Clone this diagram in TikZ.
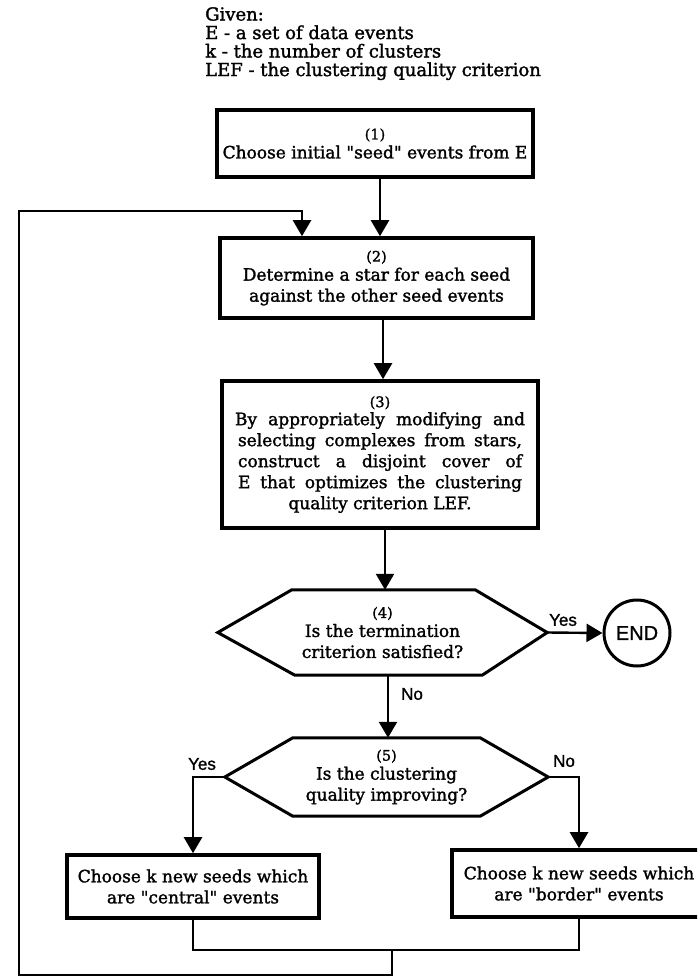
\documentclass[tikz,border=0pt]{standalone}
\usepackage{fontspec}
\setmainfont{DejaVu Serif}[Ligatures=TeXOff,FakeBold=1.6]
\newfontfamily\lblfont{Liberation Sans}[FakeBold=1.2]
\usetikzlibrary{arrows.meta}
\newcommand\bfnt{\fontsize{17}{21}\selectfont}
\newcommand\gfnt{\fontsize{18}{18.5}\selectfont}
\newcommand\numfnt{\fontsize{14.5}{15}\selectfont}
\begin{document}
\begin{tikzpicture}[x=1pt,y=-1pt,
  boxnode/.style={draw,line width=3.6pt,inner sep=0pt,align=center,font=\bfnt},
  txtnode/.style={inner sep=0pt,align=center,font=\bfnt},
  hexline/.style={line width=3pt,line join=miter},
  conn/.style={line width=2.4pt},
  arr/.style={conn,-{Triangle[width=18pt,length=16pt]}},
  lbl/.style={inner sep=0pt,font=\lblfont\fontsize{17}{20}\selectfont}
]
\path[use as bounding box] (0,0) rectangle (697,980);
\clip (0,0) rectangle (697,980);

% given text
\node[anchor=north west,align=left,inner sep=0pt,font=\gfnt] (given) at (205,7)
  {Given:\\E - a set of data events\\k - the number of clusters\\LEF - the clustering quality criterion};

% boxes
\node[boxnode,minimum width=316pt,minimum height=67pt] (b1) at (375,143.5)
  {{\numfnt (1)}\\[-2pt]Choose initial "seed" events from E};
\node[boxnode,minimum width=313pt,minimum height=80pt] (b2) at (376.5,278)
  {{\numfnt (2)}\\[-2pt]Determine a star for each seed\\against the other seed events};
\node[boxnode,minimum width=316pt,minimum height=147pt] (b3) at (380,454.5)
  {{\numfnt (3)}\\[-3pt]\makebox[290pt][s]{By appropriately modifying and}\\
   \makebox[284pt][s]{selecting complexes from stars,}\\
   \makebox[284pt][s]{construct a disjoint cover of}\\
   \makebox[284pt][s]{E that optimizes the clustering}\\
   quality criterion LEF.};

% decision 4
\node[txtnode,minimum width=329pt,minimum height=85pt] (d4) at (382.5,632.5)
  {{\numfnt (4)}\\[-2pt]Is the termination\\criterion satisfied?};
\draw[hexline] (d4.west) -- ([xshift=74pt]d4.north west) -- ([xshift=-72pt]d4.north east)
  -- (d4.east) -- ([xshift=-65pt]d4.south east) -- ([xshift=77pt]d4.south west) -- cycle;

% END
\node[circle,draw,line width=3pt,minimum size=66pt,inner sep=0pt,
  font=\lblfont\fontsize{20}{22}\selectfont] (end) at (637,633) {END};

% decision 5
\node[txtnode,minimum width=323pt,minimum height=78pt] (d5) at (386.5,777)
  {{\numfnt (5)}\\[-2pt]Is the clustering\\quality improving?};
\draw[hexline] (d5.west) -- ([xshift=68pt]d5.north west) -- ([xshift=-68pt]d5.north east)
  -- (d5.east) -- ([xshift=-68pt]d5.south east) -- ([xshift=68pt]d5.south west) -- cycle;

% bottom boxes
\node[boxnode,minimum width=252pt,minimum height=63pt] (c1) at (193,886.5)
  {Choose k new seeds which\\are "central" events};
\node[boxnode,minimum width=254pt,minimum height=67pt] (c2) at (579,883.5)
  {Choose k new seeds which\\are "border" events};

% helper coordinates
\coordinate (x1) at (380,0);
\coordinate (x2) at (383,0);
\coordinate (x3) at (385,0);
\coordinate (xa) at (388,0);
\coordinate (j) at (392,950);
\coordinate (lb) at (19,975);
\coordinate (lt) at (19,211);
\coordinate (xl) at (302,0);

% connectors
\draw[arr] (b1.south -| x1) -- (b2.north -| x1);
\draw[arr] (b2.south -| x2) -- (b3.north -| x2);
\draw[arr] (b3.south -| x3) -- (d4.north -| x3);
\draw[arr] (d4.east) -- (end.west);
\draw[arr] (d4.south -| xa) -- (d5.north -| xa);
\draw[arr] (d5.west) -| (c1.north);
\draw[arr] (d5.east) -| (c2.north);
\draw[conn] (c1.south) |- (j) -| (c2.south);
\draw[arr] (j) |- (lb) -- (lt) -| (b2.north -| xl);

% labels
\node[lbl] (yes4) at (563,620) {Yes};
\node[lbl] (no4) at (412,694) {No};
\node[lbl] (yes5) at (202,764) {Yes};
\node[lbl] (no5) at (564,761) {No};
\end{tikzpicture}
\end{document}
